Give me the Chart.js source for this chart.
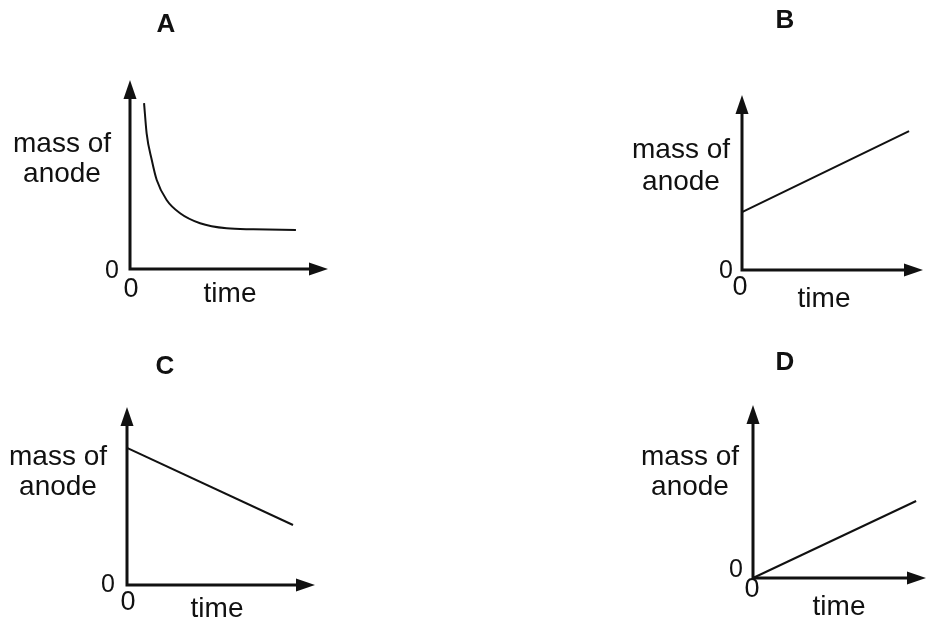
<!DOCTYPE html>
<html>
<head>
<meta charset="utf-8">
<title>mass of anode against time</title>
<script src="https://cdn.jsdelivr.net/npm/chart.js@4.4.1/dist/chart.umd.min.js"></script>
<style>
    html, body { margin: 0; padding: 0; background: #ffffff; }
    #wrap { position: relative; width: 928px; height: 619px; overflow: hidden; }
    #wrap canvas { position: absolute; }
</style>
</head>
<body>
<div id="wrap"></div>
<script>
// values (axes run 0..10 in each panel)
var panelNames = ["A", "B", "C", "D"];
var yAxisLabel = ["mass of", "anode"];
var xAxisLabel = "time";
var zeroLabel = "0";

var timeA = [0.71, 0.84, 1.10, 1.35, 1.85, 2.53, 3.54, 4.88, 6.23, 8.38];
var massA = [8.78, 7.18, 5.77, 4.71, 3.65, 2.95, 2.42, 2.15, 2.10, 2.06];
var timeB = [0, 9.23];
var massB = [3.31, 7.94];
var timeC = [0, 8.83];
var massC = [7.70, 3.37];
var timeD = [0, 9.43];
var massD = [0, 4.45];

// where each panel sits on the page; label offsets are from the origin
var panels = [
    { name: panelNames[0], time: timeA, mass: massA, curved: true,
      left: 0, top: 0, w: 464, h: 320, pad: { left: 130, top: 80, right: 136, bottom: 51 },
      title: [166, 25], yLab: [-68, -117, -87], yZero: [-18, 2], xZero: [1, 21], timePos: [100, 33] },
    { name: panelNames[1], time: timeB, mass: massB, curved: false,
      left: 464, top: 0, w: 464, h: 320, pad: { left: 278, top: 95, right: 5, bottom: 50 },
      title: [321, 21], yLab: [-61, -112, -80], yZero: [-16, 1], xZero: [-2, 18], timePos: [82, 37] },
    { name: panelNames[2], time: timeC, mass: massC, curved: false,
      left: 0, top: 320, w: 464, h: 299, pad: { left: 127, top: 87, right: 149, bottom: 34 },
      title: [165, 47], yLab: [-69, -120, -90], yZero: [-19, 0], xZero: [1, 18], timePos: [90, 32] },
    { name: panelNames[3], time: timeD, mass: massD, curved: false,
      left: 464, top: 320, w: 464, h: 299, pad: { left: 289, top: 85, right: 2, bottom: 41 },
      title: [321, 43], yLab: [-63, -113, -83], yZero: [-17, -8], xZero: [-1, 12], timePos: [86, 37] }
];

var ink = "#111111";
var fontFamily = "'Liberation Sans', Arial, sans-serif";

function arrowHead(ctx, tipX, tipY, dirX, dirY) {
    var len = 19, half = 6.5;
    var bx = tipX - dirX * len, by = tipY - dirY * len;
    ctx.beginPath();
    ctx.moveTo(tipX, tipY);
    ctx.lineTo(bx - dirY * half, by + dirX * half);
    ctx.lineTo(bx + dirY * half, by - dirX * half);
    ctx.closePath();
    ctx.fill();
}

var sketchAxes = {
    id: "sketchAxes",
    afterDatasetsDraw: function (chart, args, opts) {
        var p = opts.panel;
        var ctx = chart.ctx;
        var xs = chart.scales.x, ys = chart.scales.y;
        var ox = xs.getPixelForValue(0), oy = ys.getPixelForValue(0);
        var endX = xs.getPixelForValue(10), endY = ys.getPixelForValue(10);
        ctx.save();
        ctx.strokeStyle = ink;
        ctx.fillStyle = ink;
        ctx.lineWidth = 3;
        ctx.beginPath();
        ctx.moveTo(ox, oy + 1.5);
        ctx.lineTo(ox, endY + 15);
        ctx.moveTo(ox - 1.5, oy);
        ctx.lineTo(endX - 15, oy);
        ctx.stroke();
        arrowHead(ctx, ox, endY, 0, -1);
        arrowHead(ctx, endX, oy, 1, 0);

        // panel letter
        ctx.textAlign = "center";
        ctx.textBaseline = "middle";
        ctx.font = "bold 26px " + fontFamily;
        ctx.fillText(p.name, p.title[0], p.title[1]);

        // zeros at the origin
        ctx.font = "25px " + fontFamily;
        ctx.fillText(zeroLabel, ox + p.yZero[0], oy + p.yZero[1]);
        ctx.font = "27px " + fontFamily;
        ctx.fillText(zeroLabel, ox + p.xZero[0], oy + p.xZero[1]);

        // axis words
        ctx.textBaseline = "alphabetic";
        ctx.font = "28px " + fontFamily;
        ctx.fillText(yAxisLabel[0], ox + p.yLab[0], oy + p.yLab[1]);
        ctx.fillText(yAxisLabel[1], ox + p.yLab[0], oy + p.yLab[2]);
        ctx.fillText(xAxisLabel, ox + p.timePos[0], oy + p.timePos[1]);
        ctx.restore();
    }
};

var wrap = document.getElementById("wrap");
panels.forEach(function (p) {
    var canvas = document.createElement("canvas");
    canvas.width = p.w;
    canvas.height = p.h;
    canvas.style.left = p.left + "px";
    canvas.style.top = p.top + "px";
    canvas.style.width = p.w + "px";
    canvas.style.height = p.h + "px";
    wrap.appendChild(canvas);

    var points = p.time.map(function (t, i) {
        return { x: t, y: p.mass[i] };
    });

    new Chart(canvas, {
        type: "line",
        data: {
            datasets: [{
                data: points,
                borderColor: ink,
                borderWidth: 2,
                pointRadius: 0,
                fill: false,
                tension: p.curved ? 0.4 : 0,
                cubicInterpolationMode: p.curved ? "monotone" : "default",
                clip: false
            }]
        },
        options: {
            responsive: false,
            animation: false,
            layout: { padding: p.pad },
            scales: {
                x: { type: "linear", min: 0, max: 10, display: false },
                y: { type: "linear", min: 0, max: 10, display: false }
            },
            plugins: {
                legend: { display: false },
                tooltip: { enabled: false },
                sketchAxes: { panel: p }
            }
        },
        plugins: [sketchAxes]
    });
});
</script>
</body>
</html>
